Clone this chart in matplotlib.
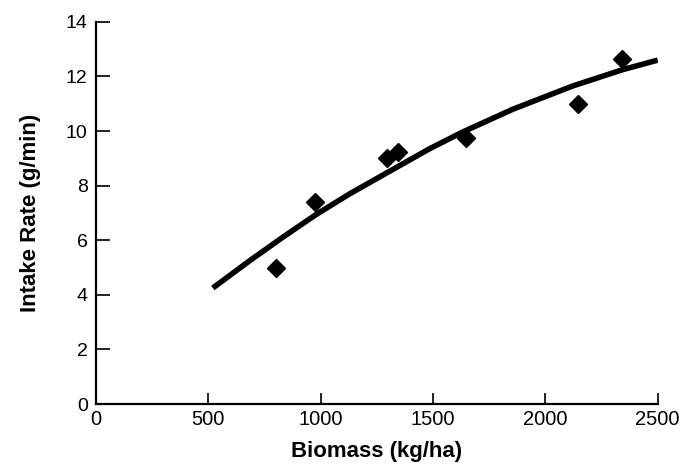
import matplotlib.pyplot as plt

plt.rcParams['font.family'] = ['Liberation Sans', 'DejaVu Sans']

# observed points
biomass = [800, 975, 1295, 1345, 1645, 2145, 2340]
intake = [5.0, 7.4, 9.0, 9.25, 9.75, 11.0, 12.65]

# fitted curve
curve_x = [520, 684, 833, 981, 1129, 1290, 1484, 1633, 1855, 2121, 2344, 2500]
curve_y = [4.25, 5.25, 6.12, 6.95, 7.70, 8.45, 9.35, 9.97, 10.80, 11.65, 12.25, 12.6]

xticks = [0, 500, 1000, 1500, 2000, 2500]
yticks = [0, 2, 4, 6, 8, 10, 12, 14]

fig = plt.figure(figsize=(6.88, 4.66), dpi=100)
ax = fig.add_axes([0.1395, 0.133, 0.8165, 0.82])

ax.plot(curve_x, curve_y, color='black', lw=4, solid_capstyle='butt',
        solid_joinstyle='round')
ax.plot(biomass, intake, 'D', color='black', markersize=9, ls='none')

ax.set_xlim(0, 2500)
ax.set_ylim(0, 14)
ax.set_xticks(xticks)
ax.set_yticks(yticks)

for side in ['top', 'right']:
    ax.spines[side].set_visible(False)
for side in ['left', 'bottom']:
    ax.spines[side].set_linewidth(1.6)

ax.tick_params(axis='y', direction='in', length=10, width=1.2, pad=6, labelsize=14)
ax.tick_params(axis='x', direction='in', length=8, width=1.2, pad=4, labelsize=14.5)

ax.set_xlabel('Biomass (kg/ha)', fontsize=16, fontweight='bold', labelpad=9)
ax.set_ylabel('Intake Rate (g/min)', fontsize=16, fontweight='bold', labelpad=18)

fig.savefig('out.png', dpi=100)
